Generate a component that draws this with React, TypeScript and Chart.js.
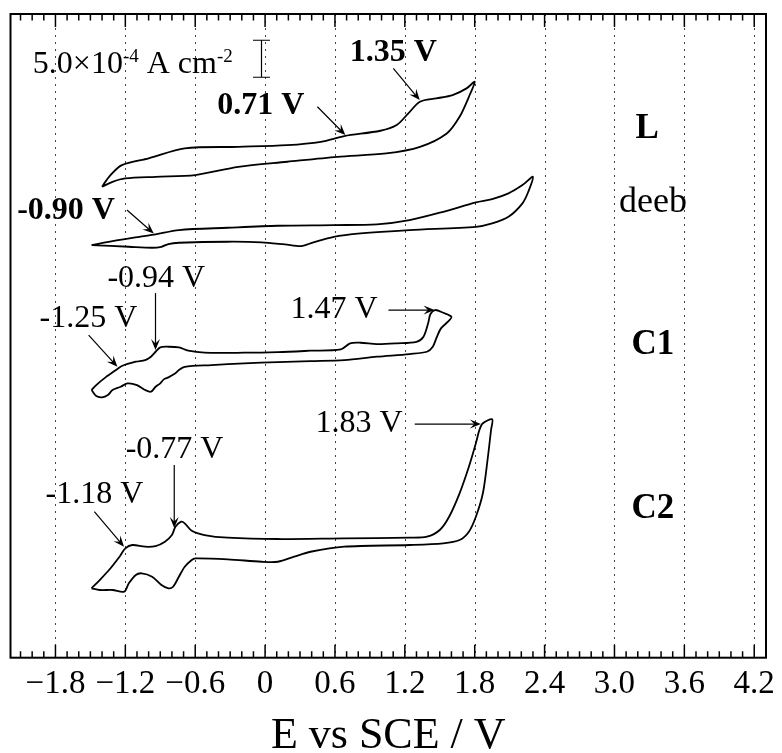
import React, { useEffect, useRef } from 'react';
import { Chart, registerables } from 'chart.js';

Chart.register(...registerables);

const SERIF = '"Liberation Serif", "Times New Roman", Times, serif';

// ---- axis ----
const xTickValues = [-1.8, -1.2, -0.6, 0, 0.6, 1.2, 1.8, 2.4, 3.0, 3.6, 4.2];
const xTickLabels = ['\u22121.8', '\u22121.2', '\u22120.6', '0', '0.6', '1.2', '1.8', '2.4', '3.0', '3.6', '4.2'];
const E_MIN = -2.186;
const E_MAX = 4.301;
const I_MIN = 0;
const I_MAX = 87; // stacked current, units of 1e-4 A cm^-2 (curves offset)

// ---- series: potential (V vs SCE) and offset current (1e-4 A cm^-2) ----
const L_E = [-1.40, -1.34, -1.23, -1.00, -0.69, -0.23, 0.19, 0.48, 0.68, 0.99, 1.13, 1.23, 1.33, 1.47, 1.61, 1.73, 1.80,
  1.75, 1.67, 1.56, 1.33, 1.04, 0.62, 0.19, -0.23, -0.60, -0.94, -1.20, -1.31, -1.40];
const L_I = [63.65, 65.0, 66.58, 67.49, 68.84, 69.05, 69.28, 69.73, 70.5, 71.22, 71.99, 73.57, 75.14, 75.59, 76.04, 76.95, 77.84,
  75.81, 73.11, 70.86, 69.05, 68.16, 67.7, 67.03, 66.35, 65.23, 65.0, 64.78, 64.32, 63.65];

const deeb_E = [-1.49, -1.31, -1.08, -0.94, -0.74, -0.32, 0.11, 0.59, 0.96, 1.24, 1.53, 1.81, 1.95, 2.09, 2.21, 2.30,
  2.26, 2.21, 2.09, 1.95, 1.81, 1.24, 0.82, 0.59, 0.39, 0.31, 0.17, -0.03, -0.32, -0.74, -0.83, -0.89, -0.97, -1.17, -1.49];
const deeb_I = [55.77, 56.31, 56.89, 57.22, 57.8, 58.11, 58.38, 58.47, 58.57, 59.15, 60.27, 61.54, 61.99, 62.76, 63.88, 65.0,
  62.97, 61.41, 59.59, 58.7, 58.24, 57.8, 57.35, 56.89, 56.0, 55.64, 55.86, 56.14, 56.22, 56.08, 55.91, 55.54, 55.41, 55.54, 55.77];

const C1_E = [-1.49, -1.45, -1.37, -1.28, -1.23, -1.11, -1.03, -0.98, -0.94, -0.90, -0.83, -0.74, -0.66, -0.52, -0.18, 0.11,
  0.39, 0.65, 0.73, 0.82, 0.96, 1.13, 1.30, 1.36, 1.40, 1.42, 1.46, 1.53, 1.60, 1.57, 1.51, 1.47, 1.44, 1.39, 1.24, 0.96,
  0.68, 0.39, 0.11, -0.18, -0.46, -0.69, -0.74, -0.77, -0.83, -0.87, -0.90, -0.94, -0.98, -1.03, -1.10, -1.18, -1.24,
  -1.31, -1.35, -1.40, -1.45, -1.49];
const C1_I = [36.18, 36.85, 37.89, 38.88, 39.42, 40.0, 40.23, 40.68, 41.35, 41.95, 42.03, 41.95, 41.49, 41.22, 41.22, 41.31,
  41.49, 41.68, 42.49, 42.57, 42.39, 42.49, 42.70, 43.38, 45.19, 46.45, 46.99, 46.62, 46.08, 45.41, 44.51, 43.16, 42.03,
  41.35, 41.04, 40.68, 40.23, 40.09, 39.96, 39.78, 39.55, 39.32, 38.88, 38.43, 37.89, 37.62, 37.08, 36.62, 35.95, 36.18,
  36.85, 37.08, 36.62, 36.18, 35.5, 35.19, 35.36, 36.18];

const C2_E = [-1.49, -1.42, -1.34, -1.25, -1.20, -1.14, -1.03, -0.94, -0.86, -0.80, -0.77, -0.72, -0.69, -0.63, -0.52, -0.32,
  0.11, 0.68, 1.24, 1.39, 1.50, 1.58, 1.67, 1.75, 1.81, 1.84, 1.87, 1.95, 1.94, 1.91, 1.87, 1.81, 1.75, 1.67, 1.53, 1.24,
  0.68, 0.39, 0.25, 0.11, -0.03, -0.32, -0.60, -0.63, -0.69, -0.74, -0.79, -0.83, -0.89, -0.97, -1.06, -1.11, -1.17,
  -1.21, -1.31, -1.42, -1.49];
const C2_I = [9.38, 10.5, 11.85, 13.65, 14.78, 15.23, 15.0, 15.09, 15.68, 16.58, 17.7, 18.38, 18.16, 17.16, 16.58, 16.22,
  16.04, 16.14, 16.22, 16.35, 17.26, 19.05, 22.22, 25.81, 28.97, 30.77, 31.68, 32.22, 30.77, 26.72, 22.22, 19.05, 17.03,
  15.91, 15.46, 15.23, 15.0, 14.32, 13.65, 12.97, 12.97, 13.3, 13.43, 13.2, 12.3, 10.95, 9.59, 9.38, 9.82, 10.95, 11.41,
  11.18, 10.05, 8.92, 9.15, 9.15, 9.38];

const seriesNames = ['L', 'deeb', 'C1', 'C2'];
const seriesE = [L_E, deeb_E, C1_E, C2_E];
const seriesI = [L_I, deeb_I, C1_I, C2_I];
const seriesLabelE = [3.28, 3.33, 3.33, 3.33];
const seriesLabelI = [71.51, 61.45, 42.26, 20.16];
const seriesLabelBold = [true, false, true, true];

// peak annotations (text centre and arrow, in data coordinates)
const peakTexts = ['1.35 V', '0.71 V', '-0.90 V', '-0.94 V', '-1.25 V', '1.47 V', '1.83 V', '-0.77 V', '-1.18 V'];
const peakTextE = [1.1, -0.037, -1.709, -0.934, -1.517, 0.593, 0.806, -0.777, -1.466];
const peakTextI = [81.78, 74.55, 60.43, 51.24, 45.84, 46.99, 31.58, 28.07, 21.99];
const peakBold = [true, true, true, false, false, false, false, false, false];
const arrowFromE = [1.101, 0.449, -1.186, -0.941, -1.515, 1.059, 1.285, -0.780, -1.466];
const arrowFromI = [79.65, 74.46, 60.5, 49.28, 43.61, 46.99, 31.58, 26.04, 19.73];
const arrowToE = [1.328, 0.689, -0.956, -0.941, -1.268, 1.455, 1.853, -0.780, -1.211];
const arrowToI = [75.36, 70.64, 57.35, 41.58, 39.32, 46.99, 31.58, 17.53, 15.0];

// current scale bar: 5.0e-4 A cm^-2 = 5 units
const scaleBarE = -0.037;
const scaleBarI = [78.45, 83.45];
const scaleTextE = -1.994;
const scaleTextI = 79.05;

function drawArrow(ctx: CanvasRenderingContext2D, x1: number, y1: number, x2: number, y2: number) {
  const a = Math.atan2(y2 - y1, x2 - x1);
  const c = Math.cos(a);
  const s = Math.sin(a);
  const L = 11;
  const W = 4.5;
  ctx.beginPath();
  ctx.moveTo(x1, y1);
  ctx.lineTo(x2 - c * 6, y2 - s * 6);
  ctx.stroke();
  ctx.beginPath();
  ctx.moveTo(x2, y2);
  ctx.lineTo(x2 - L * c - W * s, y2 - L * s + W * c);
  ctx.lineTo(x2 - 0.6 * L * c, y2 - 0.6 * L * s);
  ctx.lineTo(x2 - L * c + W * s, y2 - L * s - W * c);
  ctx.closePath();
  ctx.fill();
}

const framePlugin = {
  id: 'cvFrame',
  beforeDatasetsDraw(chart: any) {
    const { ctx, chartArea: a, scales } = chart;
    const x = scales.x;
    ctx.save();
    ctx.strokeStyle = '#444';
    ctx.lineWidth = 1;
    ctx.setLineDash([2, 5]);
    for (const v of xTickValues) {
      const px = Math.round(x.getPixelForValue(v)) + 0.5;
      ctx.beginPath();
      ctx.moveTo(px, a.top);
      ctx.lineTo(px, a.bottom);
      ctx.stroke();
    }
    ctx.restore();
  },
  afterDatasetsDraw(chart: any) {
    const { ctx, chartArea: a, scales } = chart;
    const x = scales.x;
    const y = scales.y;
    const X = (v: number) => x.getPixelForValue(v);
    const Y = (v: number) => y.getPixelForValue(v);
    ctx.save();
    // frame
    ctx.strokeStyle = '#000';
    ctx.lineWidth = 2;
    ctx.strokeRect(a.left, a.top, a.right - a.left, a.bottom - a.top);
    // ticks (inward, top and bottom), minor every 0.1 V, major every 0.6 V
    ctx.lineWidth = 1.5;
    for (let k = -21; k <= 43; k++) {
      const px = X(k / 10);
      if (px < a.left + 1 || px > a.right - 1) continue;
      const major = k % 6 === 0;
      const len = major ? 13 : 6.5;
      ctx.beginPath();
      ctx.moveTo(px, a.bottom);
      ctx.lineTo(px, a.bottom - len);
      ctx.moveTo(px, a.top);
      ctx.lineTo(px, a.top + len);
      ctx.stroke();
    }
    // series names
    ctx.fillStyle = '#000';
    ctx.textAlign = 'center';
    ctx.textBaseline = 'middle';
    seriesNames.forEach((n, i) => {
      ctx.font = `${seriesLabelBold[i] ? 'bold ' : ''}${n === 'deeb' ? 36 : 35}px ${SERIF}`;
      ctx.fillText(n, X(seriesLabelE[i]), Y(seriesLabelI[i]));
    });
    // peak labels and arrows
    ctx.strokeStyle = '#000';
    ctx.lineWidth = 1.2;
    peakTexts.forEach((t, i) => {
      ctx.font = `${peakBold[i] ? 'bold ' : ''}32px ${SERIF}`;
      ctx.fillText(t, X(peakTextE[i]), Y(peakTextI[i]));
      drawArrow(ctx, X(arrowFromE[i]), Y(arrowFromI[i]), X(arrowToE[i]), Y(arrowToI[i]));
    });
    // scale bar
    const bx = Math.round(X(scaleBarE)) + 0.5;
    const by0 = Y(scaleBarI[0]);
    const by1 = Y(scaleBarI[1]);
    ctx.lineWidth = 1.2;
    ctx.beginPath();
    ctx.moveTo(bx, by0);
    ctx.lineTo(bx, by1);
    ctx.moveTo(bx - 8.5, by0);
    ctx.lineTo(bx + 8.5, by0);
    ctx.moveTo(bx - 8.5, by1);
    ctx.lineTo(bx + 8.5, by1);
    ctx.stroke();
    // scale text 5.0x10^-4 A cm^-2
    ctx.textAlign = 'left';
    ctx.textBaseline = 'alphabetic';
    let tx = X(scaleTextE);
    const ty = Y(scaleTextI);
    const big = `32px ${SERIF}`;
    const small = `19px ${SERIF}`;
    const parts: [string, boolean][] = [['5.0\u00d710', false], ['-4', true], [' A cm', false], ['-2', true]];
    for (const [txt, sup] of parts) {
      ctx.font = sup ? small : big;
      ctx.fillText(txt, tx, sup ? ty - 11 : ty);
      tx += ctx.measureText(txt).width;
    }
    ctx.restore();
  },
};

export default function App() {
  const ref = useRef<HTMLCanvasElement>(null);
  useEffect(() => {
    const canvas = ref.current;
    if (!canvas) return;
    const chart = new Chart(canvas, {
      type: 'scatter',
      data: {
        datasets: seriesNames.map((name, i) => ({
          label: name,
          data: seriesE[i].map((e, j) => ({ x: e, y: seriesI[i][j] })),
          showLine: true,
          borderColor: '#000',
          backgroundColor: '#000',
          borderWidth: 1.8,
          pointRadius: 0,
          tension: 0.3,
          fill: false,
        })),
      },
      options: {
        responsive: false,
        animation: false,
        devicePixelRatio: 1,
        events: [],
        layout: { padding: { left: 10.5, right: 9.3, top: 14, bottom: 0 } },
        plugins: {
          legend: { display: false },
          tooltip: { enabled: false },
          title: { display: false },
        },
        scales: {
          x: {
            type: 'linear',
            position: 'bottom',
            min: E_MIN,
            max: E_MAX,
            afterBuildTicks: (s: any) => {
              s.ticks = xTickValues.map((v) => ({ value: v }));
            },
            afterFit: (s: any) => {
              s.height = 95.3;
            },
            grid: { display: false, drawTicks: false },
            border: { display: false },
            ticks: {
              autoSkip: false,
              maxRotation: 0,
              minRotation: 0,
              padding: 7,
              color: '#000',
              font: { family: SERIF, size: 33 },
              callback: (_v: any, i: number) => xTickLabels[i],
            },
            title: {
              display: true,
              text: 'E vs SCE / V',
              color: '#000',
              font: { family: SERIF, size: 44, lineHeight: 0.7 },
              padding: { top: 0, bottom: 1.6 },
            },
          },
          y: { type: 'linear', display: false, min: I_MIN, max: I_MAX },
        },
      } as any,
      plugins: [framePlugin],
    });
    return () => chart.destroy();
  }, []);
  return (
    <div style={{ position: 'fixed', left: 0, top: 0, width: 782, height: 753, background: '#fff' }}>
      <canvas ref={ref} width={782} height={753} style={{ display: 'block', width: 782, height: 753 }} />
    </div>
  );
}
